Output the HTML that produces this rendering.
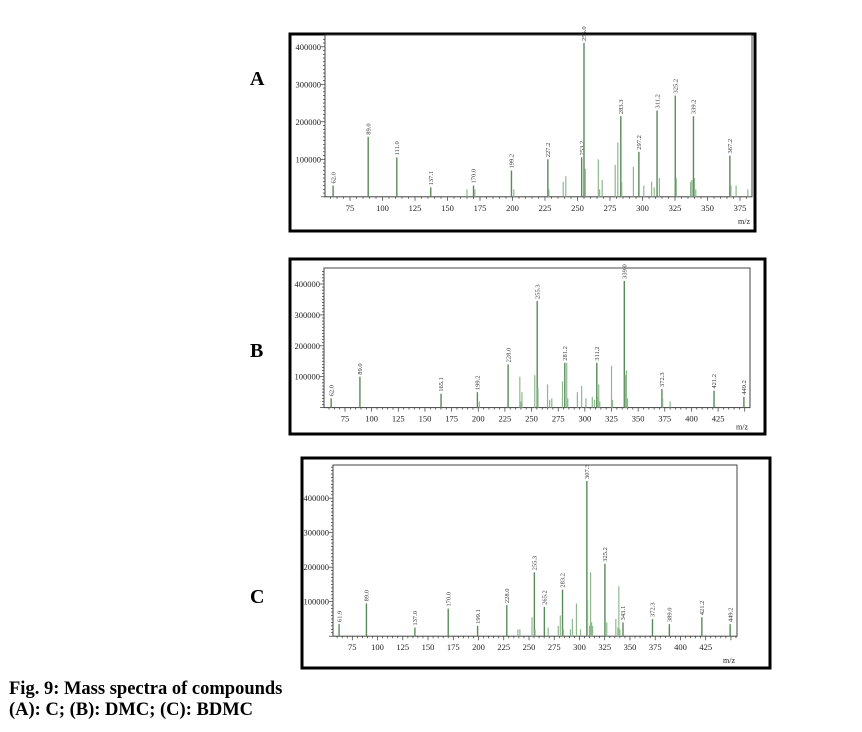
<!DOCTYPE html>
<html><head><meta charset="utf-8"><style>
body{margin:0;background:#fff;width:862px;height:732px;overflow:hidden;position:relative;font-family:"Liberation Serif",serif}
.lbl{position:absolute;font-family:"Liberation Serif",serif;font-weight:bold;font-size:20px}
.cap{position:absolute;left:9px;font-family:"Liberation Serif",serif;font-weight:bold;font-size:18.5px;line-height:21px}
svg{position:absolute;left:0;top:0}
</style></head><body>
<div class="lbl" style="left:250px;top:68px">A</div>
<div class="lbl" style="left:250px;top:340px">B</div>
<div class="lbl" style="left:250px;top:586px">C</div>
<div class="cap" style="top:679px">Fig. 9: Mass spectra of compounds<br>(A): C; (B): DMC; (C): BDMC</div>
<svg id="chart" width="862" height="732"></svg>
<script>
// Panel A (C)
const mzA=[62,89,111,137.1,165,170,171,199.2,201,227.2,228,239,241,253.2,255,256,266,267,269,279,281,283.3,284,293,297.2,301,307,309,311.2,313,325.2,326,337,338,339.2,340,341,367.2,368,372,381];
const intA=[30,160,105,25,20,30,20,70,20,100,20,40,55,105,410,75,100,20,45,85,145,215,40,80,120,30,40,25,230,50,270,50,40,45,215,50,20,110,30,30,20];
const labA=["62.0","89.0","111.0","137.1","","170.0","","199.2","","227.2","","","","253.2","255.0","","","","","","","283.3","","","297.2","","","","311.2","","325.2","","","","339.2","","","367.2","","",""];
const ticksA=[75,100,125,150,175,200,225,250,275,300,325,350,375];
// Panel B (DMC)
const mzB=[62,89,165.1,199.2,201,228,239,240,241,253,255.3,256,265,267,269,279,281.2,283,284,293,297,301,307,309,311.2,312,313,314,325,326,337,338,339,340,372.3,373,380,421.2,449.2];
const intB=[30,100,45,50,20,140,100,20,50,105,345,65,75,25,30,85,145,145,30,50,70,30,35,25,145,35,75,20,135,25,410,105,120,30,60,30,20,55,35];
const labB=["62.0","89.0","165.1","199.2","","228.0","","","","","255.3","","","","","","281.2","","","","","","","","311.2","","","","","","339.0","","","","372.3","","","421.2","449.2"];
const ticksB=[75,100,125,150,175,200,225,250,275,300,325,350,375,400,425];
// Panel C (BDMC)
const mzC=[61.9,89,137,170,199.1,228,239,241,253,255.3,256,265.2,269,279,281,283.2,284,291,293,297,301,307.3,308,310,311,312,313,325.2,327,336,338,339,340,343.1,372.3,389,421.2,449.2];
const intC=[35,95,25,80,30,90,20,20,55,185,20,85,25,30,60,135,20,20,50,95,20,450,105,30,185,40,30,210,40,50,25,145,20,40,50,35,55,35];
const labC=["61.9","89.0","137.0","170.0","199.1","228.0","","","","255.3","","265.2","","","","283.2","","","","","","307.3","","","","","","325.2","","","","","","343.1","372.3","389.0","421.2","449.2"];
const ticksC=[75,100,125,150,175,200,225,250,275,300,325,350,375,400,425];
const yTicks=[100000,200000,300000,400000];

const svg=document.getElementById('chart');
const NS='http://www.w3.org/2000/svg';
function mk(tag,attrs,parent){const e=document.createElementNS(NS,tag);for(const k in attrs)e.setAttribute(k,attrs[k]);parent.appendChild(e);return e;}

function panel(id,box,plot,xs,ys,mz,inten,labs,ticks,mzOff){
  const g=mk('g',{},svg);
  
  
  const ob=mk('rect',{x:box[0],y:box[1],width:box[2]-box[0],height:box[3]-box[1],fill:'#fff',stroke:'#000','stroke-width':3},g);
  
  
  const X=v=>xs.x0+(v-xs.v0)*xs.k;
  const Y=v=>ys.y0-v/100000*ys.k;
  const fr=mk('rect',{x:plot[0],y:plot[1],width:plot[2]-plot[0],height:ys.y0-plot[1],fill:'none',stroke:'#444','stroke-width':1},g);
  
  
  for(let v=0;Y(v)>plot[1]+2;v+=10000){
    const big=v%100000===0;
    mk('line',{x1:plot[0]-(big?4:2),x2:plot[0],y1:Y(v),y2:Y(v),stroke:'#333','stroke-width':0.7},g);
  }
  yTicks.forEach(v=>{
    if(Y(v)<plot[1])return;
    const t=mk('text',{x:plot[0]-4,y:Y(v)+3,'font-size':8.5,'text-anchor':'end',fill:'#222','font-family':'Liberation Serif, serif'},g);
    t.textContent=v;
    
    
  });
  for(let v=Math.ceil((xs.v0-20)/5)*5;X(v)<plot[2];v+=5){
    if(X(v)<plot[0])continue;
    const big=v%25===0;
    mk('line',{x1:X(v),x2:X(v),y1:ys.y0,y2:ys.y0+(big?4:2),stroke:'#333','stroke-width':0.7},g);
  }
  ticks.forEach(v=>{
    const t=mk('text',{x:X(v),y:ys.y0+14,'font-size':8.5,'text-anchor':'middle',fill:'#222','font-family':'Liberation Serif, serif'},g);
    t.textContent=v;
    
    
  });
  const mt=mk('text',{x:plot[2]-2,y:ys.y0+mzOff,'font-size':8,'text-anchor':'end',fill:'#222','font-family':'Liberation Serif, serif'},g);
  mt.textContent='m/z';
  
  
  mz.forEach((m,i)=>{
    const v=inten[i]*1000;
    const l=mk('line',{x1:X(m),x2:X(m),y1:ys.y0,y2:Math.max(plot[1],Y(v)),stroke:labs[i]?'#5a8a5a':'#8fb88f','stroke-width':labs[i]?1.4:1.2},g);
    
    
    if(labs[i]){
      const ty=Math.max(plot[1]+1,Y(v)-2);
      const t=mk('text',{x:0,y:0,'font-size':6.5,'text-anchor':'start',fill:'#333','font-family':'Liberation Serif, serif',transform:`translate(${X(m)+2.2},${ty}) rotate(-90)`},g);
      t.textContent=labs[i];
      
      
    }
  });
}
panel('spectrum-a',[290,34,755,231],[325,35,752],{x0:350,v0:75,k:1.3},{y0:196.8,k:37.5},mzA,intA,labA,ticksA,27);
panel('spectrum-b',[290,259,765,434],[324,268,750],{x0:345,v0:75,k:1.066},{y0:407.6,k:30.9},mzB,intB,labB,ticksB,22);
panel('spectrum-c',[302,458,770,668],[333,465,737],{x0:352.3,v0:75,k:1.0097},{y0:636.2,k:34.5},mzC,intC,labC,ticksC,27);
</script>
</body></html>
